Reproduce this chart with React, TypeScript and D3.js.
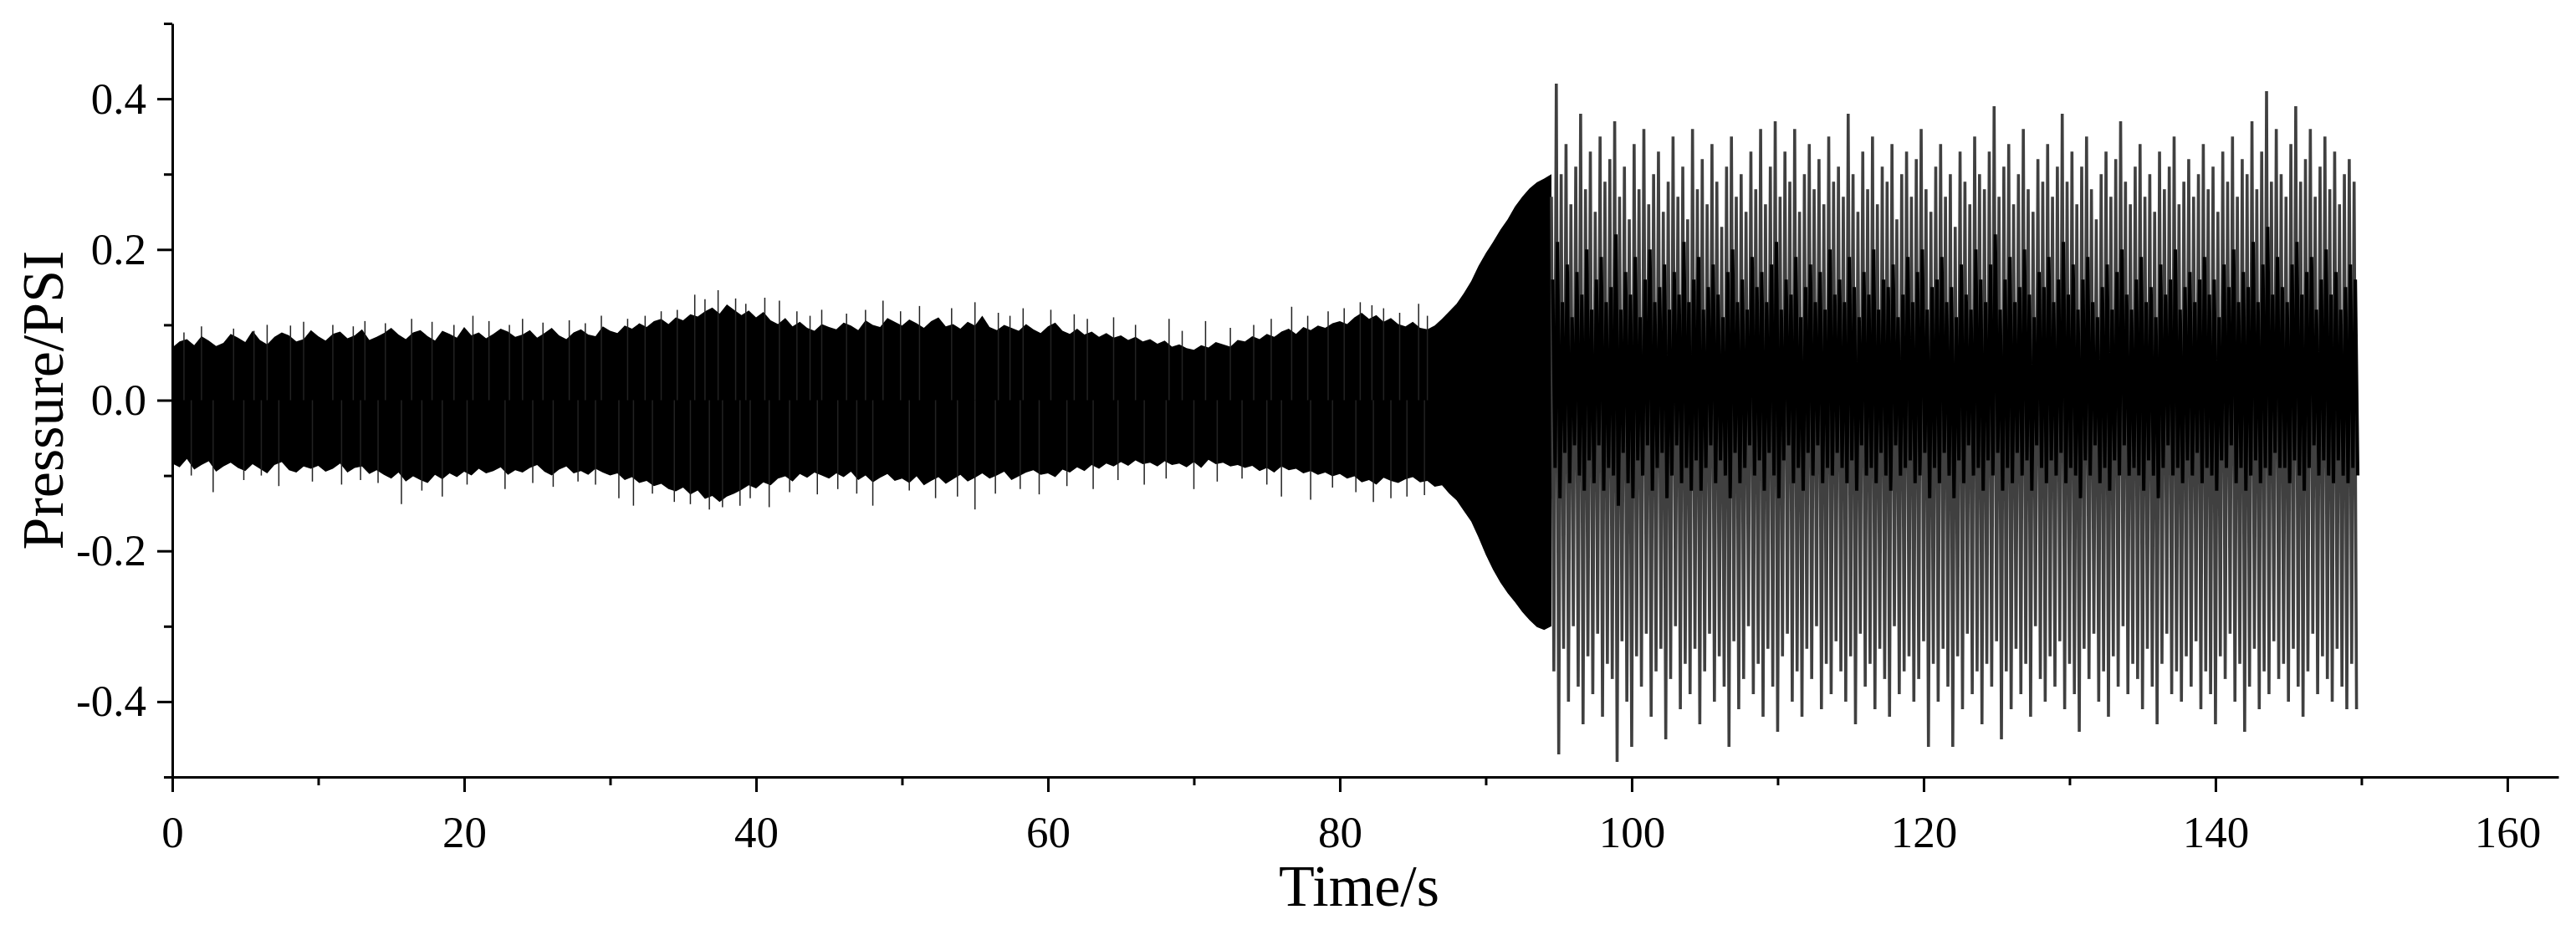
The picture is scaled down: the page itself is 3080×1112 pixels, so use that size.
import React, { useRef, useEffect } from 'react'
import * as d3 from 'd3'

const WIDTH = 3080
const HEIGHT = 1112

// axis ticks
const X_TICKS = [0, 20, 40, 60, 80, 100, 120, 140, 160]
const X_MINOR = [10, 30, 50, 70, 90, 110, 130, 150]
const Y_TICKS = [-0.4, -0.2, 0.0, 0.2, 0.4]
const Y_MINOR = [-0.5, -0.3, -0.1, 0.1, 0.3, 0.5]

// 0 - 94.5 s : dense band, upper / lower edge every 0.5 s (PSI)
const PRE_STEP = 0.5
const preHi = [
  0.070, 0.078, 0.081, 0.073, 0.085, 0.079, 0.072, 0.076, 0.088, 0.083, 0.077, 0.092, 0.080, 0.074, 0.084, 0.090, 0.086, 0.078, 0.081, 0.093,
  0.085, 0.079, 0.088, 0.091, 0.082, 0.086, 0.094, 0.080, 0.084, 0.089, 0.096, 0.087, 0.081, 0.090, 0.093, 0.085, 0.079, 0.092, 0.088, 0.083,
  0.097, 0.086, 0.090, 0.082, 0.088, 0.095, 0.091, 0.084, 0.087, 0.093, 0.083, 0.089, 0.096, 0.086, 0.081, 0.090, 0.094, 0.087, 0.085, 0.098,
  0.092, 0.089, 0.099, 0.095, 0.102, 0.097, 0.105, 0.108, 0.101, 0.110, 0.106, 0.114, 0.111, 0.118, 0.123, 0.115, 0.127, 0.120, 0.113, 0.119,
  0.110, 0.117, 0.106, 0.101, 0.109, 0.098, 0.104, 0.096, 0.092, 0.101, 0.097, 0.094, 0.103, 0.099, 0.093, 0.106, 0.100, 0.097, 0.109, 0.104,
  0.099, 0.107, 0.102, 0.096, 0.105, 0.110, 0.098, 0.101, 0.095, 0.104, 0.099, 0.112, 0.097, 0.093, 0.100, 0.096, 0.092, 0.101, 0.094, 0.089,
  0.098, 0.103, 0.092, 0.088, 0.095, 0.087, 0.091, 0.084, 0.089, 0.083, 0.086, 0.080, 0.084, 0.078, 0.081, 0.075, 0.079, 0.071, 0.074, 0.069,
  0.067, 0.073, 0.070, 0.077, 0.074, 0.071, 0.080, 0.078, 0.085, 0.081, 0.088, 0.084, 0.091, 0.095, 0.088, 0.097, 0.093, 0.099, 0.096, 0.102,
  0.105, 0.101, 0.110, 0.116, 0.108, 0.113, 0.104, 0.109, 0.101, 0.098, 0.104, 0.096, 0.094, 0.099, 0.108, 0.118, 0.128, 0.142, 0.158, 0.178,
  0.195, 0.210, 0.226, 0.240, 0.257, 0.270, 0.281, 0.289, 0.294, 0.300,
]
const preLo = [
  -0.084, -0.089, -0.078, -0.092, -0.086, -0.081, -0.095, -0.088, -0.083, -0.090, -0.094, -0.085, -0.091, -0.097, -0.086, -0.082, -0.093, -0.096, -0.088, -0.091,
  -0.087, -0.095, -0.091, -0.084, -0.096, -0.090, -0.088, -0.098, -0.093, -0.099, -0.104, -0.096, -0.108, -0.101, -0.106, -0.110, -0.099, -0.105, -0.097, -0.102,
  -0.095, -0.100, -0.091, -0.097, -0.094, -0.089, -0.099, -0.093, -0.096, -0.090, -0.086, -0.095, -0.100, -0.092, -0.088, -0.097, -0.094, -0.099, -0.091, -0.096,
  -0.100, -0.097, -0.106, -0.102, -0.110, -0.107, -0.114, -0.111, -0.118, -0.121, -0.116, -0.125, -0.120, -0.131, -0.127, -0.135, -0.128, -0.124, -0.119, -0.113,
  -0.117, -0.109, -0.113, -0.104, -0.101, -0.108, -0.098, -0.103, -0.096, -0.100, -0.104, -0.097, -0.102, -0.095, -0.106, -0.100, -0.109, -0.103, -0.098, -0.107,
  -0.104, -0.110, -0.101, -0.113, -0.107, -0.102, -0.111, -0.105, -0.099, -0.108, -0.103, -0.097, -0.104, -0.100, -0.095, -0.106, -0.101, -0.096, -0.093, -0.099,
  -0.097, -0.102, -0.092, -0.096, -0.089, -0.094, -0.086, -0.091, -0.084, -0.088, -0.082, -0.087, -0.080, -0.085, -0.083, -0.088, -0.081, -0.086, -0.084, -0.089,
  -0.082, -0.090, -0.079, -0.085, -0.083, -0.088, -0.086, -0.090, -0.087, -0.094, -0.090, -0.096, -0.088, -0.093, -0.091, -0.097, -0.094, -0.099, -0.096, -0.101,
  -0.098, -0.104, -0.101, -0.109, -0.106, -0.112, -0.103, -0.107, -0.110, -0.105, -0.102, -0.109, -0.107, -0.115, -0.113, -0.124, -0.133, -0.147, -0.161, -0.182,
  -0.205, -0.225, -0.242, -0.256, -0.268, -0.281, -0.292, -0.301, -0.305, -0.300,
]
// thin spikes sticking out of the band [time s, PSI]
const preSpikes: [number, number][] = [
  [2.0, 0.098], [6.5, 0.100], [9.0, 0.104], [13.2, 0.105], [16.4, 0.108], [20.6, 0.112], [24.0, 0.108],
  [27.2, 0.106], [29.4, 0.112], [33.5, 0.118], [35.8, 0.140], [37.4, 0.146], [38.6, 0.135], [40.6, 0.136],
  [41.6, 0.132], [44.5, 0.120], [48.7, 0.132], [51.2, 0.125], [55.0, 0.130], [58.3, 0.122], [60.2, 0.120],
  [64.5, 0.110], [68.3, 0.108], [70.8, 0.105], [76.7, 0.124], [79.2, 0.118], [81.4, 0.130], [83.0, 0.122], [85.4, 0.128],
  [0.8, 0.090], [4.2, 0.095], [5.6, 0.092], [8.1, 0.099], [11.0, 0.100], [12.4, 0.098], [14.6, 0.102], [17.8, 0.104],
  [19.3, 0.100], [21.7, 0.105], [23.1, 0.100], [25.4, 0.103], [28.3, 0.102], [31.2, 0.108], [32.4, 0.112], [34.6, 0.120],
  [36.5, 0.134], [39.3, 0.128], [42.8, 0.118], [43.7, 0.112], [46.2, 0.115], [47.5, 0.120], [49.9, 0.118], [53.4, 0.122],
  [56.6, 0.116], [57.4, 0.112], [61.8, 0.114], [62.7, 0.108], [66.0, 0.100], [69.2, 0.092], [72.5, 0.096], [74.1, 0.100],
  [75.3, 0.108], [77.8, 0.112], [80.3, 0.122], [82.2, 0.126], [84.1, 0.116], [86.0, 0.112],
  [2.8, -0.122], [7.3, -0.114], [11.6, -0.112], [15.7, -0.138], [18.5, -0.128], [22.8, -0.118], [26.1, -0.115],
  [30.6, -0.130], [31.6, -0.140], [34.4, -0.135], [36.8, -0.145], [38.9, -0.140], [40.9, -0.142], [44.2, -0.125],
  [48.0, -0.140], [52.3, -0.130], [55.0, -0.145], [59.4, -0.125], [63.1, -0.118], [66.6, -0.112], [70.0, -0.118],
  [76.0, -0.128], [78.0, -0.132], [82.3, -0.135], [84.6, -0.128],
  [1.3, -0.100], [4.9, -0.106], [6.1, -0.100], [9.6, -0.108], [12.9, -0.106], [14.1, -0.110], [17.1, -0.120],
  [20.2, -0.112], [24.7, -0.110], [27.8, -0.108], [29.0, -0.112], [32.9, -0.124], [35.5, -0.138], [37.7, -0.142],
  [39.6, -0.130], [42.3, -0.122], [45.6, -0.118], [46.9, -0.124], [50.5, -0.120], [53.8, -0.128], [56.4, -0.124],
  [58.1, -0.118], [61.3, -0.114], [64.8, -0.106], [68.1, -0.104], [71.6, -0.108], [73.3, -0.104], [75.0, -0.112],
  [79.5, -0.116], [81.1, -0.122], [83.5, -0.130], [85.8, -0.126],
]

// 94.5 - 150 s : large oscillation, peak / trough every 1/3 s (PSI)
const POST_START = 94.5
const POST_STEP = 1 / 3
const postHi = [
  0.27, 0.42, 0.30, 0.34, 0.26, 0.31, 0.38, 0.28, 0.33, 0.25, 0.35, 0.29, 0.32, 0.37, 0.27,
  0.31, 0.24, 0.34, 0.28, 0.36, 0.26, 0.30, 0.33, 0.25, 0.29, 0.35, 0.27, 0.31, 0.24, 0.36,
  0.28, 0.32, 0.26, 0.34, 0.29, 0.23, 0.31, 0.35, 0.27, 0.30, 0.25, 0.33, 0.28, 0.36, 0.26,
  0.31, 0.37, 0.27, 0.33, 0.29, 0.36, 0.25, 0.30, 0.34, 0.28, 0.32, 0.26, 0.35, 0.29, 0.31,
  0.27, 0.38, 0.30, 0.25, 0.33, 0.28, 0.35, 0.26, 0.31, 0.29, 0.34, 0.24, 0.30, 0.33, 0.27,
  0.32, 0.36, 0.28, 0.25, 0.31, 0.34, 0.27, 0.30, 0.23, 0.33, 0.29, 0.26, 0.35, 0.30, 0.28,
  0.33, 0.39, 0.27, 0.31, 0.34, 0.26, 0.30, 0.36, 0.28, 0.25, 0.32, 0.29, 0.34, 0.27, 0.31,
  0.38, 0.29, 0.33, 0.26, 0.31, 0.35, 0.28, 0.24, 0.30, 0.33, 0.27, 0.32, 0.37, 0.29, 0.26,
  0.31, 0.34, 0.27, 0.30, 0.25, 0.33, 0.28, 0.31, 0.35, 0.26, 0.29, 0.32, 0.27, 0.30, 0.34,
  0.28, 0.31, 0.25, 0.33, 0.29, 0.35, 0.27, 0.32, 0.30, 0.37, 0.28, 0.33, 0.41, 0.29, 0.36,
  0.30, 0.27, 0.34, 0.39, 0.29, 0.32, 0.36, 0.27, 0.31, 0.35, 0.28, 0.33, 0.26, 0.30, 0.32, 0.29,
]
const postLo = [
  -0.36, -0.47, -0.33, -0.40, -0.30, -0.38, -0.43, -0.34, -0.39, -0.31, -0.42, -0.35, -0.37, -0.48, -0.32,
  -0.40, -0.46, -0.34, -0.38, -0.31, -0.42, -0.36, -0.33, -0.45, -0.37, -0.30, -0.41, -0.35, -0.39, -0.33,
  -0.43, -0.36, -0.31, -0.40, -0.34, -0.38, -0.46, -0.32, -0.41, -0.37, -0.30, -0.39, -0.35, -0.42, -0.33,
  -0.38, -0.44, -0.34, -0.31, -0.40, -0.36, -0.42, -0.33, -0.37, -0.30, -0.41, -0.35, -0.39, -0.32, -0.36,
  -0.40, -0.34, -0.43, -0.31, -0.38, -0.35, -0.41, -0.33, -0.37, -0.42, -0.30, -0.39, -0.36, -0.34, -0.40,
  -0.37, -0.32, -0.46, -0.35, -0.40, -0.33, -0.38, -0.46, -0.34, -0.41, -0.31, -0.39, -0.36, -0.43, -0.35,
  -0.38, -0.32, -0.45, -0.36, -0.41, -0.33, -0.39, -0.35, -0.42, -0.30, -0.37, -0.40, -0.34, -0.38, -0.32,
  -0.41, -0.35, -0.39, -0.44, -0.33, -0.37, -0.31, -0.40, -0.36, -0.42, -0.34, -0.38, -0.30, -0.39, -0.35,
  -0.37, -0.41, -0.33, -0.38, -0.43, -0.35, -0.31, -0.39, -0.36, -0.40, -0.34, -0.38, -0.32, -0.41, -0.36,
  -0.39, -0.43, -0.34, -0.37, -0.31, -0.40, -0.35, -0.44, -0.38, -0.33, -0.41, -0.36, -0.39, -0.32, -0.37,
  -0.35, -0.40, -0.33, -0.38, -0.42, -0.36, -0.31, -0.39, -0.34, -0.37, -0.40, -0.33, -0.38, -0.41, -0.35, -0.41,
]
// dark core of the oscillation, peak / trough every 1/3 s (PSI)
const coreHi = [
  0.16, 0.21, 0.13, 0.18, 0.11, 0.17, 0.14, 0.20, 0.12, 0.16, 0.19, 0.13, 0.15, 0.22, 0.12,
  0.17, 0.14, 0.19, 0.11, 0.16, 0.20, 0.13, 0.15, 0.18, 0.12, 0.17, 0.14, 0.21, 0.13, 0.16,
  0.19, 0.12, 0.15, 0.18, 0.14, 0.11, 0.17, 0.20, 0.13, 0.16, 0.12, 0.19, 0.15, 0.17, 0.13,
  0.18, 0.21, 0.12, 0.16, 0.14, 0.19, 0.11, 0.15, 0.18, 0.13, 0.17, 0.12, 0.20, 0.14, 0.16,
  0.13, 0.19, 0.15, 0.11, 0.17, 0.14, 0.20, 0.12, 0.16, 0.15, 0.18, 0.11, 0.14, 0.19, 0.13,
  0.17, 0.20, 0.12, 0.15, 0.16, 0.19, 0.13, 0.15, 0.11, 0.18, 0.14, 0.12, 0.20, 0.16, 0.13,
  0.18, 0.22, 0.12, 0.16, 0.19, 0.13, 0.15, 0.20, 0.14, 0.11, 0.17, 0.15, 0.19, 0.13, 0.16,
  0.21, 0.14, 0.18, 0.12, 0.16, 0.19, 0.13, 0.11, 0.15, 0.18, 0.12, 0.17, 0.20, 0.14, 0.12,
  0.16, 0.19, 0.13, 0.15, 0.11, 0.18, 0.14, 0.16, 0.20, 0.12, 0.15, 0.17, 0.13, 0.16, 0.19,
  0.14, 0.16, 0.11, 0.18, 0.15, 0.20, 0.13, 0.17, 0.15, 0.21, 0.13, 0.18, 0.23, 0.14, 0.19,
  0.15, 0.13, 0.18, 0.21, 0.14, 0.17, 0.19, 0.12, 0.16, 0.20, 0.14, 0.17, 0.12, 0.15, 0.18, 0.16,
]
const coreLo = [
  -0.09, -0.13, -0.07, -0.11, -0.06, -0.10, -0.12, -0.08, -0.11, -0.06, -0.12, -0.09, -0.10, -0.14, -0.07,
  -0.11, -0.13, -0.08, -0.10, -0.06, -0.12, -0.09, -0.07, -0.13, -0.10, -0.06, -0.11, -0.09, -0.12, -0.08,
  -0.12, -0.09, -0.06, -0.11, -0.08, -0.10, -0.13, -0.07, -0.11, -0.09, -0.06, -0.10, -0.08, -0.12, -0.07,
  -0.10, -0.13, -0.08, -0.06, -0.11, -0.09, -0.12, -0.07, -0.10, -0.06, -0.11, -0.09, -0.10, -0.07, -0.09,
  -0.11, -0.08, -0.12, -0.06, -0.10, -0.09, -0.11, -0.07, -0.10, -0.12, -0.06, -0.10, -0.09, -0.08, -0.11,
  -0.10, -0.07, -0.13, -0.09, -0.11, -0.07, -0.10, -0.13, -0.08, -0.11, -0.06, -0.10, -0.09, -0.12, -0.08,
  -0.10, -0.07, -0.12, -0.09, -0.11, -0.07, -0.10, -0.08, -0.12, -0.06, -0.09, -0.11, -0.08, -0.10, -0.07,
  -0.11, -0.09, -0.10, -0.13, -0.08, -0.10, -0.06, -0.11, -0.09, -0.12, -0.08, -0.10, -0.06, -0.10, -0.09,
  -0.10, -0.12, -0.08, -0.10, -0.13, -0.09, -0.06, -0.10, -0.09, -0.11, -0.08, -0.10, -0.07, -0.11, -0.09,
  -0.10, -0.12, -0.08, -0.09, -0.06, -0.11, -0.09, -0.12, -0.10, -0.08, -0.11, -0.09, -0.10, -0.07, -0.09,
  -0.09, -0.11, -0.08, -0.10, -0.12, -0.09, -0.06, -0.10, -0.08, -0.10, -0.11, -0.08, -0.10, -0.11, -0.09, -0.10,
]

const FONT = '"Liberation Serif", "Times New Roman", serif'

function PressureChart() {
  const svgRef = useRef<SVGSVGElement>(null)

  useEffect(() => {
    if (!svgRef.current) return
    const svg = d3.select(svgRef.current)
    svg.selectAll('*').remove()

    const x = d3.scaleLinear().domain([0, 163.5]).range([206, 3059])
    const y = d3.scaleLinear().domain([-0.5, 0.5]).range([929, 28])

    const plot = svg.append('g')

    // dense band before the transition
    const band = d3.area<number>()
      .x((_, i) => x(i * PRE_STEP))
      .y0((_, i) => y(preLo[i]))
      .y1(d => y(d))
    plot.append('path')
      .attr('d', band(preHi))
      .attr('fill', '#000')

    plot.selectAll('.spike')
      .data(preSpikes)
      .enter().append('line')
      .attr('class', 'spike')
      .attr('x1', d => x(d[0]))
      .attr('x2', d => x(d[0]))
      .attr('y1', y(0))
      .attr('y2', d => y(d[1]))
      .attr('stroke', '#222')
      .attr('stroke-width', 1.5)

    const zig = d3.line<[number, number]>().x(d => x(d[0])).y(d => y(d[1]))

    // oscillation peaks and troughs
    const outer: [number, number][] = []
    postHi.forEach((v, i) => {
      const t = POST_START + i * POST_STEP
      outer.push([t, v])
      outer.push([t + POST_STEP / 2, postLo[i]])
    })
    plot.append('path')
      .attr('d', zig(outer))
      .attr('fill', 'none')
      .attr('stroke', '#404040')
      .attr('stroke-width', 3.6)

    // dark core
    const inner: [number, number][] = []
    coreHi.forEach((v, i) => {
      const t = POST_START + i * POST_STEP + POST_STEP / 4
      inner.push([t, v])
      inner.push([t + POST_STEP / 2, coreLo[i]])
    })
    plot.append('path')
      .attr('d', zig(inner))
      .attr('fill', 'none')
      .attr('stroke', '#000')
      .attr('stroke-width', 4)

    // axes
    const styleAxis = (g: d3.Selection<SVGGElement, unknown, null, undefined>) => {
      g.select('.domain').attr('stroke', '#000').attr('stroke-width', 3)
      g.selectAll('.tick line').attr('stroke', '#000').attr('stroke-width', 3)
      g.selectAll('.tick text')
        .attr('fill', '#000')
        .style('font-family', FONT)
        .style('font-size', '53px')
    }

    const xAxis = svg.append('g')
      .attr('transform', `translate(0,${y(-0.5)})`)
      .call(d3.axisBottom(x).tickValues(X_TICKS).tickSize(18).tickSizeOuter(0).tickPadding(28)
        .tickFormat(d3.format('d')))
    styleAxis(xAxis)

    const xMinor = svg.append('g')
      .attr('transform', `translate(0,${y(-0.5)})`)
      .call(d3.axisBottom(x).tickValues(X_MINOR).tickSize(10).tickFormat(() => ''))
    xMinor.select('.domain').remove()
    xMinor.selectAll('.tick line').attr('stroke', '#000').attr('stroke-width', 3)

    const yAxis = svg.append('g')
      .attr('transform', `translate(${x(0)},0)`)
      .call(d3.axisLeft(y).tickValues(Y_TICKS).tickSize(18).tickSizeOuter(0).tickPadding(13)
        .tickFormat(d3.format('.1f')))
    styleAxis(yAxis)
    yAxis.selectAll('.tick text').text(d => d3.format('.1f')(d as number).replace('−', '-'))

    const yMinor = svg.append('g')
      .attr('transform', `translate(${x(0)},0)`)
      .call(d3.axisLeft(y).tickValues(Y_MINOR).tickSize(10).tickFormat(() => ''))
    yMinor.select('.domain').remove()
    yMinor.selectAll('.tick line').attr('stroke', '#000').attr('stroke-width', 3)

    // axis titles
    svg.append('text')
      .attr('x', 1625)
      .attr('y', 1083)
      .attr('text-anchor', 'middle')
      .style('font-family', FONT)
      .style('font-size', '70px')
      .text('Time/s')

    svg.append('text')
      .attr('transform', `translate(75,${y(0)}) rotate(-90)`)
      .attr('text-anchor', 'middle')
      .style('font-family', FONT)
      .style('font-size', '70px')
      .text('Pressure/PSI')
  }, [])

  return (
    <svg
      ref={svgRef}
      width={WIDTH}
      height={HEIGHT}
      style={{ position: 'absolute', left: 0, top: 0, backgroundColor: '#fff' }}
    />
  )
}

export default function App() {
  return <PressureChart />
}
